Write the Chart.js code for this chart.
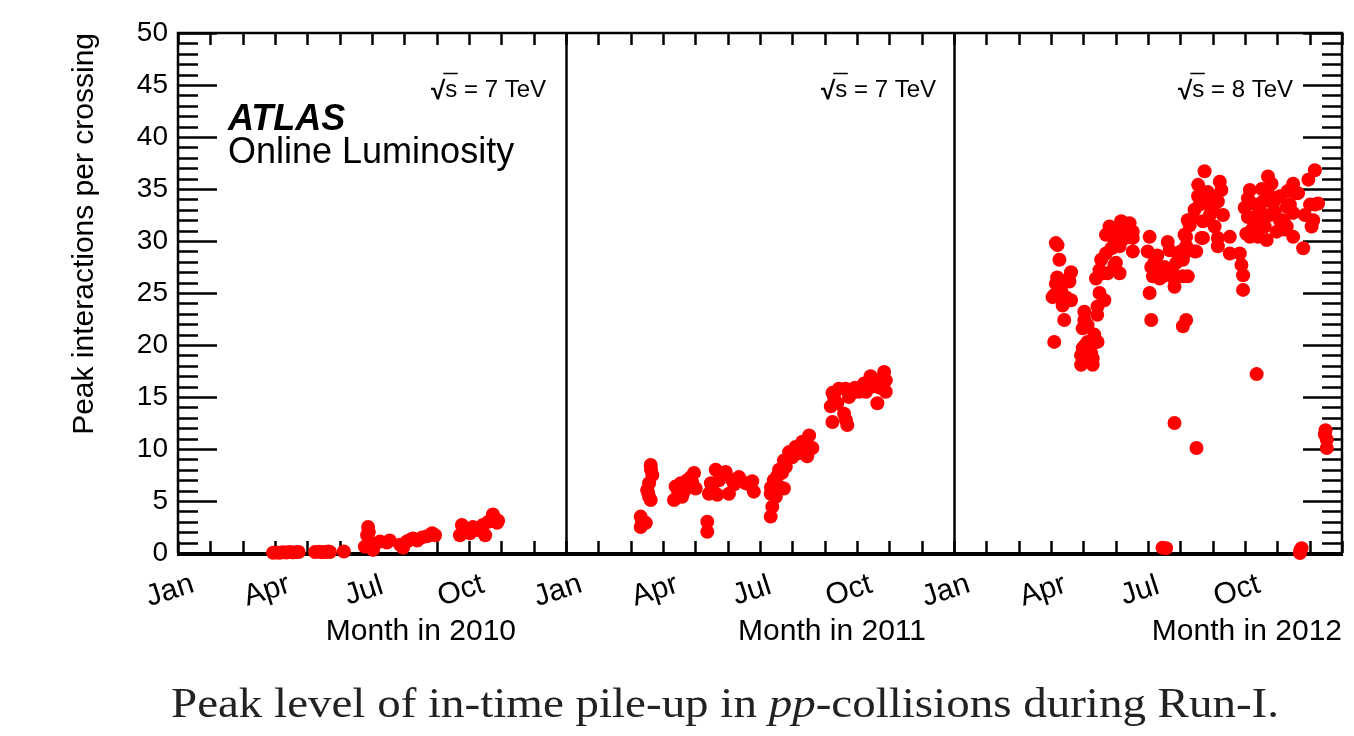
<!DOCTYPE html>
<html>
<head>
<meta charset="utf-8">
<script src="https://cdn.jsdelivr.net/npm/chart.js@4.4.0/dist/chart.umd.min.js"></script>
<style>
html,body{margin:0;padding:0;background:#fff;overflow:hidden}
#wrap{position:relative;width:1354px;height:736px;background:#fff}
</style>
</head>
<body>
<div id="wrap"><canvas id="c" width="1354" height="736"></canvas></div>
<script>
// ---------- tick / label data ----------
const yearLabels = ['2010', '2011', '2012'];
const energyLabels = ['7 TeV', '7 TeV', '8 TeV'];
const monthLabels = ['Jan', 'Apr', 'Jul', 'Oct'];
const monthLabelPositions = [0, 3, 6, 9];
const yMin = 0, yMax = 50, yStep = 5;
const monthsPerYear = 12;
const yTitle = 'Peak interactions per crossing';
const captionParts = ['Peak level of in-time pile-up in ', 'pp', '-collisions during Run-I.'];

// ---------- series (x = month within year, 0 = 1 Jan) ----------
const months2010 = [2.94,3.05,3.15,3.25,3.35,3.45,3.55,3.65,3.73,4.24,4.35,4.45,4.55,4.65,4.70,5.13,
  5.78,5.85,5.88,5.90,6.03,6.10,6.25,6.46,6.55,6.87,6.96,7.08,7.20,7.27,7.40,7.55,7.70,7.86,7.95,
  8.72,8.78,8.85,9.03,9.12,9.25,9.43,9.50,9.60,9.74,9.80,9.87,9.90];
const pileup2010 = [0.02,0.05,0.03,0.08,0.05,0.10,0.06,0.08,0.10,0.10,0.12,0.08,0.10,0.14,0.10,0.15,
  0.6,1.7,2.5,2.0,0.3,0.9,1.1,1.0,1.2,0.8,0.5,1.1,1.3,1.4,1.2,1.5,1.6,1.9,1.7,
  1.7,2.7,2.4,1.9,2.5,2.2,2.7,1.7,3.0,3.7,3.3,2.9,3.1];

const months2011 = [2.31,2.31,2.47,2.35,
  2.62,2.67,2.57,2.51,2.57,2.62,2.63,2.54,
  3.34,3.39,3.55,3.65,3.75,3.96,4.01,3.80,3.59,3.86,3.46,3.90,3.68,
  4.37,4.37,
  4.42,4.48,4.63,4.73,4.68,4.94,5.04,5.14,5.35,5.56,5.76,5.81,4.79,4.52,5.20,5.66,
  6.33,6.38,6.33,6.43,6.59,6.74,6.59,6.74,6.90,7.10,7.31,7.52,7.62,7.46,7.21,6.80,6.49,6.34,6.53,6.68,7.00,7.40,
  8.19,8.24,8.24,8.44,8.65,8.60,8.70,8.86,9.06,9.22,9.42,9.63,9.84,9.89,9.89,9.63,9.47,9.28,8.75,8.39,8.29,8.66,8.94,9.69];
const pileup2011 = [3.5,2.5,2.9,3.0,
  8.46,7.5,6.7,6.06,5.4,5.1,8.0,5.8,
  5.1,6.4,6.7,5.9,7.0,7.7,6.2,6.4,5.4,7.3,6.0,6.8,6.5,
  3.0,2.05,
  5.7,6.7,8.0,7.0,5.6,7.8,5.7,7.0,7.3,6.7,6.9,5.9,7.6,6.2,6.6,6.6,
  3.5,4.45,5.7,7.0,6.4,6.2,8.0,8.9,9.7,10.2,10.7,11.3,10.1,9.3,9.6,8.3,5.4,6.3,7.4,7.7,9.2,10.3,
  14.1,12.6,15.4,15.8,15.8,13.4,12.3,15.4,15.5,16.3,17.0,16.6,17.4,16.6,15.5,14.4,16.0,15.5,15.0,14.4,15.0,12.8,15.9,15.9];

const months2012 = [
  3.20,3.15,3.26,3.62,3.15,3.57,3.10,3.31,3.46,3.36,3.62,3.41,3.10,3.05,3.51,3.19,3.35,
  4.03,4.03,4.13,3.98,4.34,4.39,4.13,3.98,4.24,4.29,3.93,4.29,4.44,3.93,4.06,
  4.44,4.50,4.65,4.39,4.50,4.55,4.70,4.75,5.01,5.12,4.60,4.96,4.43,
  4.81,4.70,4.96,5.17,5.43,5.53,5.32,5.12,5.53,5.06,5.53,4.87,5.27,5.43,
  6.05,5.99,6.10,6.20,6.41,6.61,6.67,6.87,6.82,6.82,7.08,7.08,7.18,7.13,7.23,6.05,6.10,7.08,7.18,6.15,6.36,6.46,6.76,6.92,7.01,6.51,6.67,6.29,
  6.82,7.50,6.56,6.45,10.75,10.70,10.71,9.36,11.53,11.53,11.49,11.47,
  7.29,7.49,7.65,7.39,7.55,7.75,7.60,7.85,7.80,8.01,8.22,8.27,8.16,8.32,8.06,8.16,8.16,8.53,8.53,8.84,8.89,8.94,8.94,7.55,7.70,7.18,7.70,7.44,7.23,7.08,7.91,7.44,7.97,
  9.15,9.09,8.99,9.09,9.04,9.15,9.71,9.82,9.71,9.56,9.51,9.46,9.77,9.61,9.40,9.67,10.08,10.29,10.08,10.29,9.98,10.49,10.64,10.49,10.49,10.80,10.96,11.16,11.01,11.16,11.06,11.11,9.30,9.87,10.19,10.23,10.57,9.24,9.92,10.39,10.85,11.26,9.33,9.52,10.32];
const pileup2012 = [
  29.6,29.8,28.2,27.0,25.9,26.1,24.8,25.3,24.6,23.8,24.3,22.4,20.3,24.6,26.3,26.5,25.9,
  23.2,22.4,21.9,21.6,21.0,20.3,20.3,19.7,19.2,18.7,18.1,18.1,20.3,19.0,20.0,
  23.7,25.0,24.3,26.4,27.2,28.2,28.8,26.9,27.9,26.9,26.9,27.7,22.9,
  31.4,30.6,30.1,31.9,31.7,30.9,30.3,29.5,29.0,31.1,30.3,29.3,31.5,30.8,
  30.4,29.0,27.5,28.0,26.9,29.9,29.1,27.9,26.3,25.6,26.6,28.5,29.5,30.6,32.0,25.0,22.4,21.8,22.4,26.6,26.4,26.6,27.0,28.8,29.0,27.5,27.2,28.6,
  12.5,10.1,0.45,0.5,0.45,0.0,0.25,17.2,10.1,10.9,11.8,11.4,
  31.5,29.0,30.3,32.2,35.4,36.7,33.5,34.7,33.6,33.0,35.7,34.9,33.8,32.5,31.4,30.3,29.5,30.4,28.8,28.8,27.7,26.7,25.3,34.3,31.9,30.4,30.3,29.0,26.6,28.2,32.5,33.0,34.2,
  34.9,34.1,33.2,32.3,30.7,30.4,36.2,35.5,34.6,33.8,32.7,32.0,32.5,31.4,30.4,30.1,34.3,33.3,32.0,31.4,30.9,35.5,34.6,32.7,30.4,29.3,35.9,36.8,33.5,33.5,31.4,32.0,32.3,33.6,32.0,31.1,34.6,31.2,32.8,33.5,32.5,33.6,33.5,35.0,34.8];

const seriesMonths = [months2010, months2011, months2012];
const seriesValues = [pileup2010, pileup2011, pileup2012];

function toPoints(yearIndex, months, values) {
  return months.map((m, i) => ({ x: yearIndex * monthsPerYear + m, y: values[i] }));
}

const SANS = '"Liberation Sans", Arial, Helvetica, sans-serif';
const SERIF = '"Liberation Serif", "Times New Roman", serif';

const framePlugin = {
  id: 'frame',
  beforeDatasetsDraw(chart) {
    const { ctx, chartArea: a, scales: { x, y } } = chart;
    ctx.save();
    ctx.strokeStyle = '#000';
    ctx.lineCap = 'butt';
    ctx.lineWidth = 2.5;
    ctx.beginPath();
    for (let v = yMin; v <= yMax; v++) {
      const py = Math.round(y.getPixelForValue(v)) + 0.5;
      const len = (v % yStep === 0) ? 39 : 20;
      ctx.moveTo(a.left, py); ctx.lineTo(a.left + len, py);
      ctx.moveTo(a.right, py); ctx.lineTo(a.right - len, py);
    }
    for (let m = 0; m <= yearLabels.length * monthsPerYear; m++) {
      const px = Math.round(x.getPixelForValue(m)) + 0.5;
      ctx.moveTo(px, a.bottom); ctx.lineTo(px, a.bottom - 12);
      ctx.moveTo(px, a.top); ctx.lineTo(px, a.top + 12);
    }
    ctx.stroke();
    ctx.lineWidth = 2.5;
    ctx.beginPath();
    ctx.moveTo(a.left, a.bottom); ctx.lineTo(a.left, a.top);
    ctx.lineTo(a.right, a.top); ctx.lineTo(a.right, a.bottom);
    for (let k = 1; k < yearLabels.length; k++) {
      const px = Math.round(x.getPixelForValue(k * monthsPerYear)) + 0.5;
      ctx.moveTo(px, a.top); ctx.lineTo(px, a.bottom);
    }
    ctx.stroke();
    ctx.lineWidth = 4;
    ctx.beginPath();
    ctx.moveTo(a.left - 1, a.bottom + 1); ctx.lineTo(a.right + 1, a.bottom + 1);
    ctx.stroke();
    ctx.restore();
  },
  afterDraw(chart) {
    const { ctx, chartArea: a, scales: { x, y } } = chart;
    ctx.save();
    ctx.fillStyle = '#000';
    ctx.strokeStyle = '#000';
    ctx.textAlign = 'left';
    ctx.textBaseline = 'alphabetic';
    ctx.font = 'italic bold 36px ' + SANS;
    ctx.fillText('ATLAS', a.left + 50, 130);
    ctx.font = '36px ' + SANS;
    ctx.fillText('Online Luminosity', a.left + 50, 163);

    const endOffsets = [20, 18, 49];
    for (let k = 0; k < yearLabels.length; k++) {
      const R = x.getPixelForValue((k + 1) * monthsPerYear) - endOffsets[k];
      ctx.font = '24px ' + SANS;
      const rest = ' = ' + energyLabels[k];
      const wRest = ctx.measureText(rest).width;
      const wS = ctx.measureText('s').width;
      ctx.font = 'bold 26px ' + SANS;
      const wRad = ctx.measureText('\u221A').width;
      const x0 = R - wRest - wS - wRad;
      const base = 97;
      ctx.fillText('\u221A', x0, base + 2);
      ctx.font = '24px ' + SANS;
      ctx.fillText('s', x0 + wRad, base);
      ctx.fillText(rest, x0 + wRad + wS, base);
      ctx.lineWidth = 1.5;
      ctx.beginPath();
      ctx.moveTo(x0 + wRad - 2, base - 23.5);
      ctx.lineTo(x0 + wRad + wS + 0.5, base - 23.5);
      ctx.stroke();
    }

    ctx.font = '30px ' + SANS;
    ctx.textAlign = 'center';
    ctx.textBaseline = 'middle';
    for (let k = 0; k < yearLabels.length; k++) {
      for (let j = 0; j < monthLabels.length; j++) {
        const px = x.getPixelForValue(k * monthsPerYear + monthLabelPositions[j]) - 8;
        ctx.save();
        ctx.translate(px, a.bottom + 38);
        ctx.rotate(-18 * Math.PI / 180);
        ctx.fillText(monthLabels[j], 0, 0);
        ctx.restore();
      }
    }

    const titleOffsets = [50, 28, 0];
    ctx.font = '30px ' + SANS;
    ctx.textAlign = 'right';
    ctx.textBaseline = 'alphabetic';
    for (let k = 0; k < yearLabels.length; k++) {
      const R = x.getPixelForValue((k + 1) * monthsPerYear) - titleOffsets[k];
      ctx.fillText('Month in ' + yearLabels[k], R, 640);
    }

    const fonts = ['42px ' + SERIF, 'italic 42px ' + SERIF, '42px ' + SERIF];
    let total = 0;
    const widths = captionParts.map((t, i) => { ctx.font = fonts[i]; const w = ctx.measureText(t).width; total += w; return w; });
    const sx = 1108 / total;
    ctx.textAlign = 'left';
    ctx.translate(171, 717);
    ctx.scale(sx, 1);
    let cx = 0;
    captionParts.forEach((t, i) => { ctx.font = fonts[i]; ctx.fillStyle = '#222'; ctx.fillText(t, cx, 0); cx += widths[i]; });
    ctx.restore();
  }
};

const datasets = seriesMonths.map((months, k) => ({
  label: yearLabels[k],
  data: toPoints(k, months, seriesValues[k]),
  backgroundColor: '#ff0000',
  borderWidth: 0,
  pointRadius: 7,
  pointHoverRadius: 7,
  clip: false
}));

new Chart(document.getElementById('c'), {
  type: 'scatter',
  data: { datasets },
  options: {
    responsive: false,
    animation: false,
    devicePixelRatio: 1,
    events: [],
    layout: { padding: { left: 0, top: 33, right: 12, bottom: 183 } },
    plugins: { legend: { display: false }, tooltip: { enabled: false } },
    scales: {
      x: {
        type: 'linear',
        min: 0,
        max: yearLabels.length * monthsPerYear,
        display: false
      },
      y: {
        type: 'linear',
        position: 'left',
        min: yMin,
        max: yMax,
        afterFit(s) { s.width = 178; },
        grid: { display: false, drawTicks: false },
        border: { display: false },
        ticks: {
          stepSize: yStep,
          padding: 10,
          color: '#000',
          font: { family: SANS, size: 28 }
        },
        title: {
          display: true,
          text: yTitle,
          align: 'end',
          color: '#000',
          font: { family: SANS, size: 30 },
          padding: { top: 67, bottom: 0 }
        }
      }
    }
  },
  plugins: [framePlugin]
});
</script>
</body>
</html>
